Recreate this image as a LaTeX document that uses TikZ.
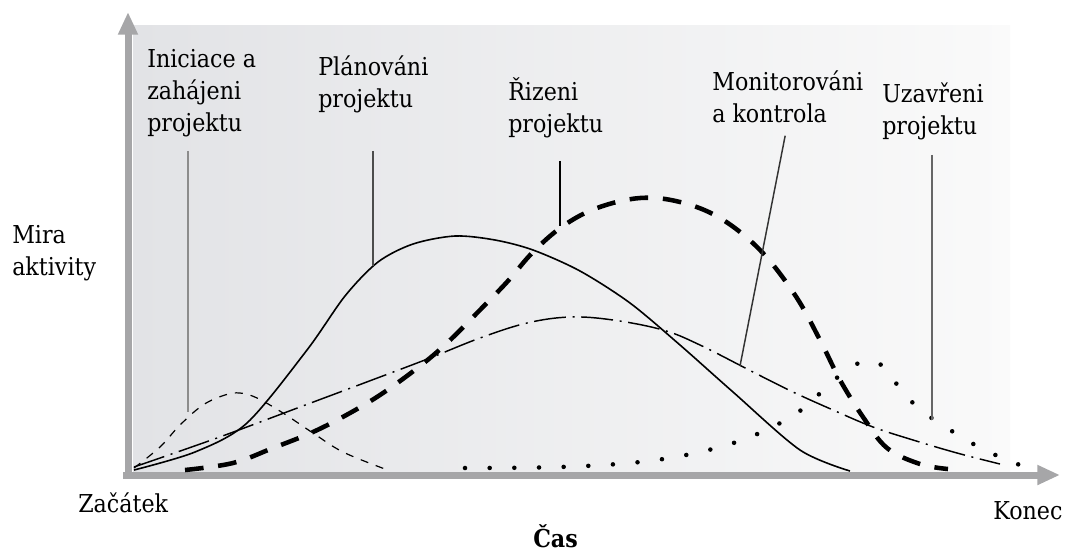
\documentclass[tikz,border=0pt]{standalone}
\usepackage{fontspec}
\setmainfont{DejaVu Serif}[FakeStretch=0.9]
\usetikzlibrary{arrows.meta}
\definecolor{panelL}{HTML}{E2E3E6}
\definecolor{panelR}{HTML}{FAFAFA}
\definecolor{axisgray}{HTML}{A6A6A8}
\begin{document}
\begin{tikzpicture}[x=0.75pt,y=-0.75pt,
  lbl/.style={inner sep=0pt, align=left, anchor=base west,
    font=\fontsize{18.5}{24}\selectfont},
  axisline/.style={draw=axisgray, line width=5.25pt,
    -{Triangle[width=14pt,length=17pt]}},
  leader/.style={line width=1.1pt},
  initc/.style={line width=0.9pt, dash pattern=on 6pt off 6pt},
  planc/.style={line width=1.2pt},
  execc/.style={line width=3.4pt, dash pattern=on 14pt off 11pt},
  monc/.style={line width=1.1pt, dash pattern=on 24pt off 5pt on 1.5pt off 5pt},
  closc/.style={line width=3.4pt, line cap=round, dash pattern=on 0pt off 18.5pt},
]
\useasboundingbox (0,0) rectangle (1070,551);

% shaded plotting area
\shade[left color=panelL, right color=panelR] (133,25) rectangle (1010,472);

% axes
\draw[axisline] (123,475) -- (1060,475);
\draw[axisline] (128,479) -- (128,12);

% activity curves of the project phases
\draw[initc] plot[smooth, tension=0.6] coordinates {
  (134,468) (160,447) (180,425) (203,405) (225,395) (240,393) (257,398)
  (283,413) (313,433) (343,452) (385,469)};
\draw[planc] plot[smooth, tension=0.5] coordinates {
  (134,470) (195,452) (247,423) (307,350) (345,296) (378,262) (413,244)
  (455,236) (495,240) (533,250) (580,271) (630,303) (680,345) (733,392)
  (800,450) (850,471)};
\draw[execc] plot[smooth, tension=0.6] coordinates {
  (185,470) (233,463) (273,448) (313,432) (350,413) (383,393) (420,366)
  (447,343) (477,313) (507,282) (533,252) (563,226) (597,208) (640,198)
  (680,202) (720,218) (760,250) (795,295) (820,340) (840,380) (863,417)
  (887,448) (920,464) (948,469)};
\draw[monc] plot[smooth, tension=0.6] coordinates {
  (134,467) (217,438) (300,407) (380,377) (430,358) (480,338) (527,323)
  (570,317) (613,320) (663,330) (700,345) (753,372) (793,392) (833,410)
  (873,427) (913,440) (957,453) (1000,464)};
\draw[closc] plot[smooth, tension=0.6] coordinates {
  (465,468) (560,467) (640,462) (700,452) (750,437) (797,413) (833,381)
  (853,366) (867,361) (880,364) (895,382) (913,403) (933,419) (955,433)
  (977,446) (1000,457) (1025,467)};

% phase labels (anchored at the baseline of their last line)
\node[lbl] (ini) at (147,131) {Iniciace a\\zahájeni\\projektu};
\node[lbl] (pla) at (318,107) {Plánováni\\projektu};
\node[lbl] (riz) at (508,132) {Řizeni\\projektu};
\node[lbl] (mon) at (712,122) {Monitorováni\\a kontrola};
\node[lbl] (uza) at (882,134) {Uzavřeni\\projektu};

% axis labels
\node[lbl] (mira) at (12,275) {Mira\\aktivity};
\node[lbl] (zac) at (78,512) {Začátek};
\node[lbl] (kon) at (993,519) {Konec};
\node[lbl, font=\fontsize{18.5}{24}\selectfont\bfseries] (cas) at (533,547) {Čas};

% leader lines from labels to curves
\coordinate (iniPt) at (188,412);
\coordinate (plaPt) at (373,266);
\coordinate (rizPt) at (560,226);
\coordinate (monPt) at (740,366);
\coordinate (uzaPt) at (932,420);
\draw[leader, draw=black!45, line width=1.6pt] (ini.south -| iniPt) ++(0,14) -- (iniPt);
\draw[leader, draw=black!70] (pla.south -| plaPt) ++(0,38) -- (plaPt);
\draw[leader] (riz.south -| rizPt) ++(0,23) -- (rizPt);
\draw[leader, draw=black!80, shorten <=10pt] (mon.south) -- (monPt);
\draw[leader, draw=black!60] (uza.south -| uzaPt) ++(0,15) -- (uzaPt);
\end{tikzpicture}
\end{document}
